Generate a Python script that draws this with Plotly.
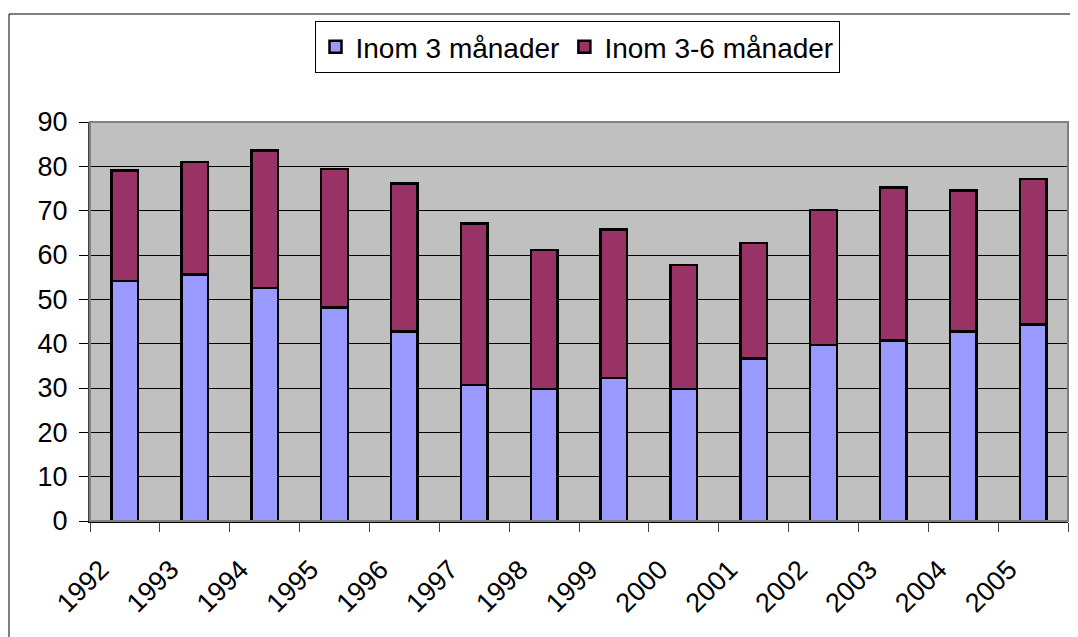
import plotly.graph_objects as go

years = ["1992", "1993", "1994", "1995", "1996", "1997", "1998",
         "1999", "2000", "2001", "2002", "2003", "2004", "2005"]
within_3 = [54.1, 55.6, 52.6, 48.2, 42.8, 30.7, 29.8,
            32.3, 29.8, 36.7, 39.7, 40.7, 42.8, 44.3]
within_3_6 = [25.0, 25.4, 31.0, 31.2, 33.3, 36.4, 31.3,
              33.4, 27.9, 26.0, 30.5, 34.5, 31.8, 32.8]
y_ticks = [0, 10, 20, 30, 40, 50, 60, 70, 80, 90]

W, H = 1078, 637
OFF = 8  # page body margin
L, R, T, B = 90 - OFF, 18, 122 - OFF, 124
pw, ph = W - L - R, H - T - B

def px(x):
    return (x - OFF - L) / pw

def py(y):
    return (H - B - (y - OFF)) / ph

fig = go.Figure()
fig.add_trace(go.Bar(x=years, y=within_3, name="Inom 3 månader",
                     marker=dict(color="#9999FF", line=dict(color="black", width=2.5))))
fig.add_trace(go.Bar(x=years, y=within_3_6, name="Inom 3-6 månader",
                     marker=dict(color="#993366", line=dict(color="black", width=2.5))))

font = "Liberation Sans, Arial, sans-serif"
fig.update_layout(
    barmode="stack",
    bargap=0.62,
    width=W, height=H,
    margin=dict(l=L, r=R, t=T, b=B, autoexpand=False),
    paper_bgcolor="white",
    plot_bgcolor="#C0C0C0",
    font=dict(family=font, size=27, color="black"),
    showlegend=True,
    legend=dict(orientation="h", x=px(577), xanchor="center", y=py(21), yanchor="top",
                bordercolor="black", borderwidth=1, bgcolor="white",
                font=dict(size=28), itemwidth=30, traceorder="normal"),
    xaxis=dict(type="category", tickson="boundaries", ticks="outside", ticklen=9,
               tickcolor="#404040", tickangle=-45, showgrid=False, showline=True,
               linecolor="black", linewidth=2, tickfont=dict(size=27),
               ticklabelshift=-24, ticklabelstandoff=20),
    yaxis=dict(range=[0, 90], tickvals=y_ticks, ticks="outside", ticklen=9,
               tickcolor="black", showgrid=True, gridcolor="black", gridwidth=1,
               showline=True, linecolor="#404040", linewidth=2, zeroline=False,
               tickfont=dict(size=27), ticklabelstandoff=6),
    shapes=[
        dict(type="rect", xref="paper", yref="paper", x0=0, x1=1, y0=0, y1=1,
             line=dict(color="#808080", width=2), layer="above"),
        dict(type="rect", xref="paper", yref="paper", x0=px(9), x1=px(1120),
             y0=py(680), y1=py(14), line=dict(color="black", width=1)),
    ],
)
fig.write_html("out.html")
